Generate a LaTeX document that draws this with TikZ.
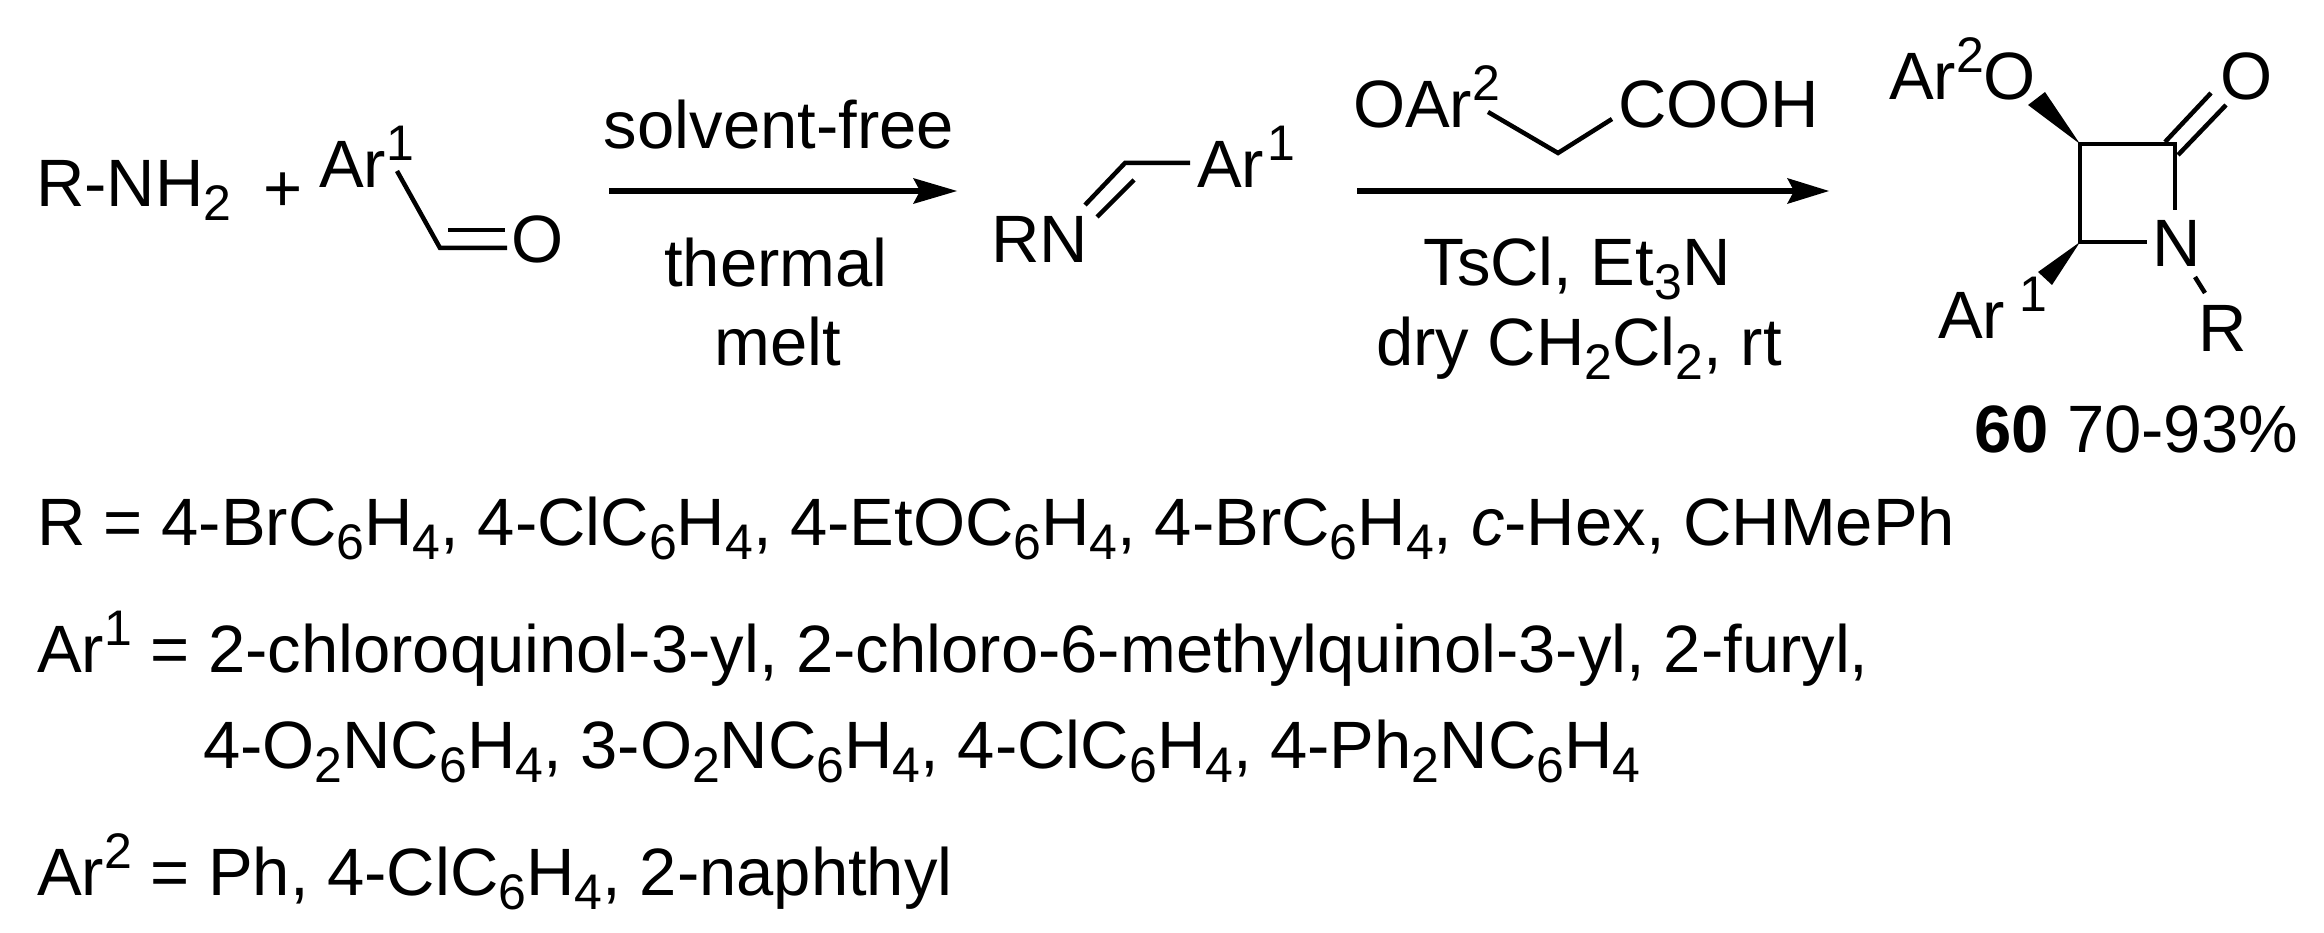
\documentclass[tikz,border=0pt]{standalone}
\usepackage{fontspec}
\setmainfont{Liberation Sans}
\newcommand{\ssub}[1]{\raisebox{-14pt}{\fontsize{50}{50}\selectfont #1}}
\newcommand{\ssup}[1]{\raisebox{27pt}{\fontsize{50}{50}\selectfont #1}}
\tikzset{
 txt/.style={inner sep=0pt,outer sep=0pt,anchor=base west,font=\fontsize{67}{67}\selectfont},
 ctr/.style={inner sep=0pt,outer sep=0pt,anchor=base,font=\fontsize{67}{67}\selectfont},
 bond/.style={line width=4.5pt},
 rarrow/.style={line width=6pt},
 head/.style={fill=black,draw=none}
}
\begin{document}
\begin{tikzpicture}[x=1pt,y=-1pt]
\useasboundingbox (0,0) rectangle (2324,933);
\node[txt] (rnh2) at (36,207) {R-NH\ssub{2}};
\node[txt] (plus) at (263,212) {+};
\node[txt] (ar1a) at (319,188) {Ar\ssup{1}};
\node[txt] (oa) at (511,263) {O};
\coordinate (c1) at (397,171); \coordinate (c2) at (440,248);
\coordinate (c3) at (507,248);
\draw[bond] (c1)--(c2)--(c3);
\draw[bond] (448,230)--(505,230);
\node[ctr] (s1) at (779,149) {solvent-free};
\node[ctr] (s2) at (776,287) {thermal};
\node[ctr] (s3) at (778,365) {melt};
\coordinate (a1s) at (609,191); \coordinate (a1e) at (945,191);
\draw[rarrow] (a1s)--(a1e);
\fill[head] (957,191)--(913,178)--(920,191)--(913,204)--cycle;
\node[txt] (rn) at (991,263) {RN};
\node[txt] (ar1c) at (1197,188) {Ar\kern 3pt\ssup{1}};
\draw[bond] (1085,205)--(1125,163)--(1190,163);
\draw[bond] (1097,217)--(1134,180);
\coordinate (a2s) at (1357,191); \coordinate (a2e) at (1815,191);
\draw[rarrow] (a2s)--(a2e);
\fill[head] (1829,191)--(1787,178)--(1794,191)--(1787,204)--cycle;
\node[txt] (oar) at (1353,128) {OAr\ssup{2}};
\node[txt] (cooh) at (1618,128) {COOH};
\draw[bond] (1488,112)--(1558,153)--(1612,119);
\node[ctr] (t1) at (1577,286) {TsCl, Et\ssub{3}N};
\node[ctr] (t2) at (1579,365) {dry CH\ssub{2}Cl\ssub{2}, rt};
\node[txt] (ar2o) at (1889,100) {Ar\ssup{2}O};
\node[txt] (o2) at (2220,100) {O};
\node[txt] (n) at (2152,267) {N};
\node[txt] (r) at (2198,352) {R};
\node[txt] (ar1b) at (1938,338) {Ar\kern 14pt\ssup{1}};
\coordinate (ra) at (2080,144); \coordinate (rb) at (2175,144); \coordinate (rc) at (2080,242);
\draw[bond] (2175,210)--(rb)--(ra)--(rc)--(2147,242);
\draw[bond] (2178,155)--(2226,105);
\draw[bond] (2165,142)--(2211,93);
\fill (ra)--(2028,105)--(2045,92)--cycle;
\fill (rc)--(2038,272)--(2052,285)--cycle;
\draw[bond] (2195,277)--(2205,293);
\node[txt] (yield) at (1974,452) {\textbf{60} 70-93\%};
\node[txt] (l1) at (37,545) {R = 4-BrC\ssub{6}H\ssub{4}, 4-ClC\ssub{6}H\ssub{4}, 4-EtOC\ssub{6}H\ssub{4}, 4-BrC\ssub{6}H\ssub{4}, \textit{c}-Hex, CHMePh};
\node[txt] (l2) at (37,672) {Ar\ssup{1} = 2-chloroquinol-3-yl, 2-chloro-6-methylquinol-3-yl, 2-furyl,};
\node[txt] (l3) at (203,768) {4-O\ssub{2}NC\ssub{6}H\ssub{4}, 3-O\ssub{2}NC\ssub{6}H\ssub{4}, 4-ClC\ssub{6}H\ssub{4}, 4-Ph\ssub{2}NC\ssub{6}H\ssub{4}};
\node[txt] (l4) at (37,895) {Ar\ssup{2} = Ph, 4-ClC\ssub{6}H\ssub{4}, 2-naphthyl};
\end{tikzpicture}
\end{document}
